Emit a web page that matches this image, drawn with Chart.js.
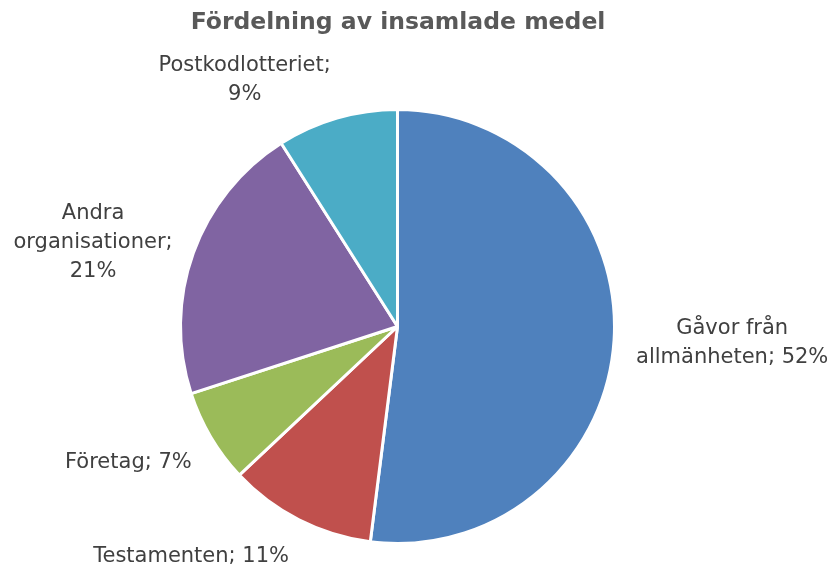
<!DOCTYPE html>
<html>
<head>
<meta charset="utf-8">
<script src="https://cdn.jsdelivr.net/npm/chart.js@4/dist/chart.umd.min.js"></script>
<style>
  html, body { margin: 0; padding: 0; background: #fff; }
  #wrap { width: 836px; height: 566px; }
</style>
</head>
<body>
<div id="wrap"><canvas id="chart" width="836" height="566"></canvas></div>
<script>
const title = "Fördelning av insamlade medel";
const categories = ["Gåvor från allmänheten", "Testamenten", "Företag", "Andra organisationer", "Postkodlotteriet"];
const shares = [52, 11, 7, 21, 9];
const colors = ["#4F81BD", "#C0504D", "#9BBB59", "#8064A2", "#4BACC6"];

const labelFont = "21px 'DejaVu Sans'";
const lineHeight = 29;

function wrapText(ctx, text, maxWidth) {
    const words = text.split(" ");
    const lines = [];
    let line = "";
    words.forEach((w) => {
        const test = line ? line + " " + w : w;
        if (line && ctx.measureText(test).width > maxWidth) {
            lines.push(line);
            line = w;
        } else {
            line = test;
        }
    });
    if (line) lines.push(line);
    return lines;
}

// draws title and outside data labels
const labelsPlugin = {
    id: "pieLabels",
    afterDraw(chart) {
        const ctx = chart.ctx;
        ctx.save();
        ctx.fillStyle = "#595959";
        ctx.font = "bold 23.5px 'DejaVu Sans'";
        ctx.textAlign = "center";
        ctx.textBaseline = "middle";
        ctx.fillText(title, 398, 23);

        ctx.font = labelFont;
        ctx.fillStyle = "#404040";
        const meta = chart.getDatasetMeta(0);
        meta.data.forEach((arc, i) => {
            const mid = (arc.startAngle + arc.endAngle) / 2;
            const r = arc.outerRadius + 22;
            const px = arc.x + Math.cos(mid) * r;
            const py = arc.y + Math.sin(mid) * r;
            const text = categories[i] + "; " + shares[i] + "%";
            const lines = wrapText(ctx, text, 196);
            const w = Math.max(...lines.map((l) => ctx.measureText(l).width));
            const h = lines.length * lineHeight;
            const sx = Math.cos(mid) >= 0 ? 1 : -1;
            const cx = px + sx * w / 2;
            const cy = py + Math.sin(mid) * h * 0.4 + 9 * (1 - Math.cos(mid)) / 2;
            lines.forEach((l, k) => {
                ctx.fillText(l, cx, cy - h / 2 + lineHeight * (k + 0.5));
            });
        });
        ctx.restore();
    },
};

new Chart(document.getElementById("chart"), {
    type: "pie",
    data: {
        labels: categories,
        datasets: [{
            data: shares,
            backgroundColor: colors,
            borderColor: "#ffffff",
            borderWidth: 3,
        }],
    },
    options: {
        responsive: false,
        animation: false,
        layout: { padding: { left: 179, right: 220, top: 108, bottom: 21 } },
        plugins: {
            legend: { display: false },
            title: { display: false },
            tooltip: { enabled: false },
        },
    },
    plugins: [labelsPlugin],
});
</script>
</body>
</html>
